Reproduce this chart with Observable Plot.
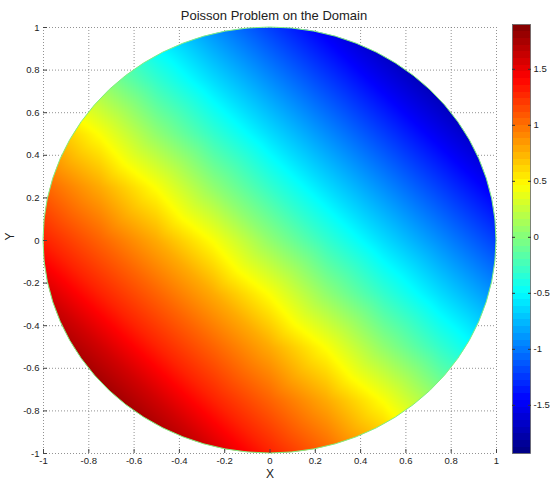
<!DOCTYPE html>
<html><head><meta charset="utf-8">
<script src="https://cdn.jsdelivr.net/npm/d3@7"></script>
<script src="https://cdn.jsdelivr.net/npm/@observablehq/plot@0.6"></script>
<style>
body{margin:0;background:#fff;font-family:"Liberation Sans",Arial,sans-serif;}
#wrap{position:relative;width:552px;height:482px;overflow:hidden;}
#main{position:absolute;left:0;top:0}
#bar{position:absolute;left:500px;top:0}
</style></head><body><div id="wrap"><div id="main"></div><div id="bar"></div></div>
<script>
// ---- data ----
const title = "Poisson Problem on the Domain";
const xLabel = "X";
const yLabel = "Y";
const gridX = [-1, -0.75, -0.5, -0.25, 0, 0.25, 0.5, 0.75, 1];
const gridY = [1, 0.75, 0.5, 0.25, 0, -0.25, -0.5, -0.75, -1];
// estimated solution value u at each grid node (rows top->bottom, cols left->right)
const gridValues = [
  [0.05, -0.3, -0.62, -0.92, -1.22, -1.52, -1.8, -1.9, -1.92],
  [0.45, 0.05, -0.3, -0.62, -0.92, -1.22, -1.52, -1.8, -1.9],
  [0.78, 0.45, 0.05, -0.3, -0.62, -0.92, -1.22, -1.52, -1.8],
  [1.05, 0.78, 0.45, 0.05, -0.3, -0.62, -0.92, -1.22, -1.52],
  [1.3, 1.05, 0.78, 0.45, 0.05, -0.3, -0.62, -0.92, -1.22],
  [1.6, 1.3, 1.05, 0.78, 0.45, 0.05, -0.3, -0.62, -0.92],
  [1.85, 1.6, 1.3, 1.05, 0.78, 0.45, 0.05, -0.3, -0.62],
  [1.9, 1.85, 1.6, 1.3, 1.05, 0.78, 0.45, 0.05, -0.3],
  [1.9, 1.9, 1.85, 1.6, 1.3, 1.05, 0.78, 0.45, 0.05]
];
const axisTicks = [-1, -0.8, -0.6, -0.4, -0.2, 0, 0.2, 0.4, 0.6, 0.8, 1];
const colorbarTicks = [-1.5, -1, -0.5, 0, 0.5, 1, 1.5];
const colorMin = -1.93, colorMax = 1.9;
const domainRadius = 1;

// ---- build ----
const samples = gridY.flatMap((y, r) => gridX.map((x, i) => ({x, y, u: gridValues[r][i]})));
const jetColors = ["#000080", "#0000ff", "#00ffff", "#ffff00", "#ff0000", "#800000"];
const jetStops = [0, 1/8, 3/8, 5/8, 7/8, 1].map(t => colorMin + t * (colorMax - colorMin));
const colorScale = {type: "linear", domain: jetStops, range: jetColors, interpolate: "rgb"};
const fmt = d => String(d);
const baseStyle = {fontFamily: "Liberation Sans, Arial, sans-serif", fontSize: "9.5px", color: "#222", background: "white", overflow: "visible"};

const chart = Plot.plot({
  width: 510, height: 482,
  marginLeft: 43, marginRight: 14, marginTop: 27, marginBottom: 29,
  style: baseStyle,
  x: {domain: [-1, 1]},
  y: {domain: [-1, 1]},
  color: colorScale,
  marks: [
    Plot.gridX(axisTicks, {stroke: "#777", strokeOpacity: 0.8, strokeDasharray: "1,2"}),
    Plot.gridY(axisTicks, {stroke: "#777", strokeOpacity: 0.8, strokeDasharray: "1,2"}),
    Plot.raster(samples, {x: "x", y: "y", fill: "u", interpolate: "barycentric", x1: -1, x2: 1, y1: -1, y2: 1, imageRendering: "auto"}),
    Plot.axisX({ticks: axisTicks, tickFormat: fmt, tickSize: -4, tickPadding: 8, label: null, stroke: "#444"}),
    Plot.axisY({ticks: axisTicks, tickFormat: fmt, tickSize: -4, tickPadding: 8, label: null, stroke: "#444"}),
    Plot.text([title], {frameAnchor: "top", dy: -17, dx: 4, fontSize: 13, fill: "#222"}),
    Plot.text([xLabel], {frameAnchor: "bottom", dy: 24, fontSize: 12, fill: "#222"}),
    Plot.text([yLabel], {frameAnchor: "left", dx: -33, rotate: -90, fontSize: 12, fill: "#222"})
  ]
});
document.getElementById("main").appendChild(chart);

// clip the raster to the circular domain using the chart's scales
(function () {
  const sx = chart.scale("x"), sy = chart.scale("y");
  const cx = sx.apply(0), cy = sy.apply(0);
  const rx = sx.apply(domainRadius) - cx, ry = sy.apply(-domainRadius) - cy;
  const ns = "http://www.w3.org/2000/svg";
  const defs = document.createElementNS(ns, "defs");
  const cp = document.createElementNS(ns, "clipPath");
  cp.setAttribute("id", "disk-clip");
  cp.setAttribute("clipPathUnits", "userSpaceOnUse");
  const el = document.createElementNS(ns, "ellipse");
  el.setAttribute("cx", cx); el.setAttribute("cy", cy);
  el.setAttribute("rx", rx); el.setAttribute("ry", ry);
  cp.appendChild(el); defs.appendChild(cp);
  chart.insertBefore(defs, chart.firstChild);
  const img = chart.querySelector("image");
  if (img) {
    let top = img;
    while (top.parentNode && top.parentNode !== chart) top = top.parentNode;
    const wrapG = document.createElementNS(ns, "g");
    wrapG.setAttribute("clip-path", "url(#disk-clip)");
    chart.insertBefore(wrapG, top);
    wrapG.appendChild(top);
    const edge = document.createElementNS(ns, "ellipse");
    edge.setAttribute("cx", cx); edge.setAttribute("cy", cy);
    edge.setAttribute("rx", rx); edge.setAttribute("ry", ry);
    edge.setAttribute("fill", "none");
    edge.setAttribute("stroke", "#80ef80");
    edge.setAttribute("stroke-width", "1");
    chart.insertBefore(edge, wrapG.nextSibling);
  }
})();

// colorbar
const bar = Plot.plot({
  width: 52, height: 482,
  marginLeft: 12, marginRight: 22, marginTop: 24, marginBottom: 29,
  style: baseStyle,
  x: {domain: [0, 1], axis: null},
  y: {domain: [colorMin, colorMax]},
  color: colorScale,
  marks: [
    Plot.raster({fill: (x, y) => y, x1: 0, x2: 1, y1: colorMin, y2: colorMax, width: 1, height: 64, imageRendering: "pixelated"}),
    Plot.frame({stroke: "#666", strokeWidth: 0.8}),
    Plot.axisY({anchor: "right", ticks: colorbarTicks, tickFormat: fmt, tickSize: -3, tickPadding: 6, label: null, stroke: "#333"}),
    Plot.axisY({anchor: "left", ticks: colorbarTicks, tickFormat: () => "", tickSize: -3, label: null, stroke: "#333"})
  ]
});
document.getElementById("bar").appendChild(bar);
</script>
</body></html>
